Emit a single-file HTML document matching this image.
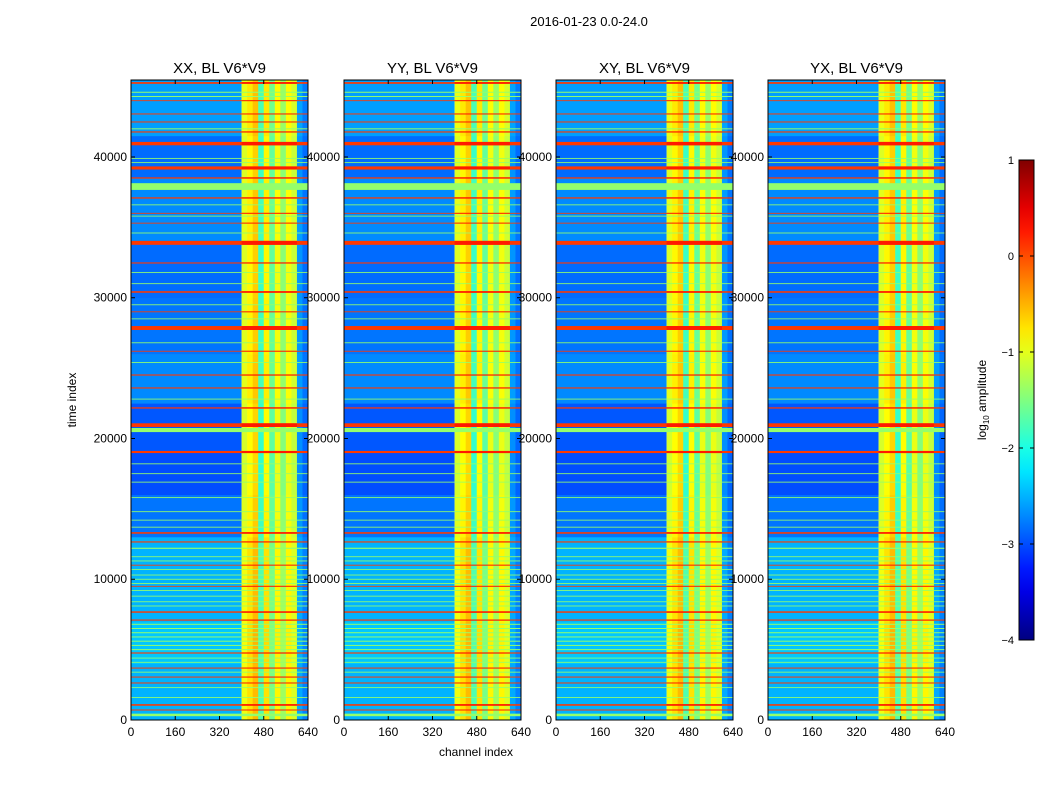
<!DOCTYPE html>
<html><head><meta charset="utf-8"><style>
body{margin:0;background:#fff;}
svg text{font-family:"Liberation Sans","DejaVu Sans",sans-serif;}
</style></head><body>
<svg id="fig" width="1050" height="800" viewBox="0 0 1050 800">
<rect width="1050" height="800" fill="#fff"/>
<text x="589" y="26" font-size="13" text-anchor="middle">2016-01-23 0.0-24.0</text>
<text x="476" y="756" font-size="12" text-anchor="middle">channel index</text>
<text x="76" y="400" font-size="12" text-anchor="middle" transform="rotate(-90 76 400)">time index</text>
<g id="panels"></g>
<g id="cbar"></g>
</svg>
<script>
// ---- data ----
const panelTitles = ["XX, BL V6*V9","YY, BL V6*V9","XY, BL V6*V9","YX, BL V6*V9"];
const xTicks = [0,160,320,480,640];
const yTicks = [0,10000,20000,30000,40000];
const cbarTicks = [1,0,-1,-2,-3,-4];
const cbarLabels = ["1","0","\u22121","\u22122","\u22123","\u22124"];
// channel profile of RFI region, 20-channel bins starting at 400
const rfiBinStart = [400,420,440,460,480,500,520,540,560,580,600,620];
const rfiBinValue = [-1.0,-0.8,-0.6,-1.8,-0.8,-1.6,-0.9,-1.4,-0.9,-1.1,-2.6,-2.8];
// background time bands
const bgStart = [0,1100,4000,7000,13000,16000,19000,22500,26000,30000,34000,38500,41500];
const bgEnd   = [1100,4000,7000,13000,16000,19000,22500,26000,30000,34000,38500,41500,45500];
const bgValue = [-2.5,-2.5,-2.4,-2.5,-2.8,-3.0,-2.95,-2.7,-2.8,-2.85,-2.7,-2.85,-2.6];
// orange stripes
const orangeT = [45260,43057,42488,41778,40950,39220,38510,37090,33900,32470,30410,27850,24510,23590,22170,20950,19040,13290,12650,7670,7100,4760,3690,3050,2630,1070,710,44000,36000,35300,29000,26200,9500,11000];
const orangeW = [120,70,70,80,240,220,90,90,280,80,110,280,80,80,90,260,150,110,80,100,80,80,70,70,70,110,70,60,60,60,60,60,60,60];
// green stripes
const greenT = [37900,20600,360,44600,44300,42000,39900,39600,36600,35800,34600,31800,31000,29500,28500,26800,25400,22800,18200,17500,16900,15800,14800,14200,13700,12200,11600,11300,10700,10300,10000,9700,9200,8800,8400,8100,6800,6500,6200,5900,5600,5300,5000,4400,4100,3400,2300,1600];
const greenW = [480,290,180,70,70,70,60,60,60,60,60,60,60,60,60,60,60,60,60,60,60,60,60,60,60,80,60,60,60,60,60,60,60,60,60,60,70,70,70,70,70,70,70,60,60,60,60,60];
const rfiOrangeBoost = 0.15;

// ---- helpers ----
function jet(v){
  let x=(v+4)/5; x=Math.max(0,Math.min(1,x));
  const c=t=>Math.round(255*Math.max(0,Math.min(1,1.5-Math.abs(4*x-t))));
  return `rgb(${c(3)},${c(2)},${c(1)})`;
}
const NS="http://www.w3.org/2000/svg";
function mk(tag,attrs,parent){const e=document.createElementNS(NS,tag);for(const k in attrs)e.setAttribute(k,attrs[k]);parent.appendChild(e);return e;}
const panelX=[131,344,556,768], panelW=177, plotTop=80, plotBot=720, tMax=45470, chMax=640;
const yScale=t=>plotBot-(t/tMax)*(plotBot-plotTop);
const panelsG=document.getElementById('panels');
panelTitles.forEach((title,p)=>{
  const x0=panelX[p];
  const xScale=c=>x0+c/chMax*panelW;
  const g=mk('g',{},panelsG);
  
  
  for(let i=0;i<bgStart.length;i++){
    const y1=yScale(bgEnd[i]),y2=yScale(bgStart[i]);
    const r=mk('rect',{x:xScale(0),y:y1,width:xScale(400)-xScale(0),height:y2-y1+0.3,fill:jet(bgValue[i])},g);
    
    
    for(let j=0;j<rfiBinStart.length;j++){
      const v=rfiBinValue[j]+(bgValue[i]+2.7)*0.3;
      const rr=mk('rect',{x:xScale(rfiBinStart[j]),y:y1,width:xScale(rfiBinStart[j]+20)-xScale(rfiBinStart[j])+0.3,height:y2-y1+0.3,fill:jet(v)},g);
      
      
    }
  }
  greenT.forEach((t,i)=>{
    const y1=yScale(t+greenW[i]/2),y2=yScale(t-greenW[i]/2);
    const r=mk('rect',{x:xScale(0),y:y1,width:panelW,height:Math.max(0.8,y2-y1),fill:jet(-1.4)},g);
    
    
  });
  orangeT.forEach((t,i)=>{
    const y1=yScale(t+orangeW[i]/2),y2=yScale(t-orangeW[i]/2);
    const h=Math.max(0.8,y2-y1);
    const r=mk('rect',{x:xScale(0),y:y1,width:panelW,height:h,fill:jet(0.1)},g);
    
    
    const r2=mk('rect',{x:xScale(400),y:y1,width:xScale(600)-xScale(400),height:h,fill:jet(0.1+rfiOrangeBoost)},g);
    
    
  });
  const fr=mk('rect',{x:x0,y:plotTop,width:panelW,height:plotBot-plotTop,fill:'none',stroke:'#000','stroke-width':1},g);
  
  
  const tt=mk('text',{x:x0+panelW/2,y:73,'font-size':15,'text-anchor':'middle'},g);
  tt.textContent=title;
  
  
  xTicks.forEach(c=>{
    const x=xScale(c);
    mk('line',{x1:x,x2:x,y1:plotBot,y2:plotBot-4,stroke:'#000'},g);
    mk('line',{x1:x,x2:x,y1:plotTop,y2:plotTop+4,stroke:'#000'},g);
    const t=mk('text',{x:x,y:plotBot+16,'font-size':12,'text-anchor':'middle'},g);
    t.textContent=c;
    
    
  });
  yTicks.forEach(v=>{
    const y=yScale(v);
    mk('line',{x1:x0,x2:x0+4,y1:y,y2:y,stroke:'#000'},g);
    mk('line',{x1:x0+panelW,x2:x0+panelW-4,y1:y,y2:y,stroke:'#000'},g);
    const t=mk('text',{x:x0-4,y:y+4,'font-size':12,'text-anchor':'end'},g);
    t.textContent=v;
    
    
  });
});
const cb=document.getElementById('cbar');
const cbX=1019,cbW=15,cbTop=160,cbBot=640;
const cbScale=v=>cbBot-(v+4)/5*(cbBot-cbTop);
const defs=mk('defs',{},cb);
const lg=mk('linearGradient',{id:'jetg',x1:0,y1:1,x2:0,y2:0},defs);
for(let i=0;i<=20;i++){mk('stop',{offset:i/20,'stop-color':jet(-4+5*i/20)},lg);}
const cr=mk('rect',{x:cbX,y:cbTop,width:cbW,height:cbBot-cbTop,fill:'url(#jetg)',stroke:'#000'},cb);


cbarTicks.forEach((v,i)=>{
  const y=cbScale(v);
  mk('line',{x1:cbX,x2:cbX+4,y1:y,y2:y,stroke:'#000'},cb);
  mk('line',{x1:cbX+cbW,x2:cbX+cbW-4,y1:y,y2:y,stroke:'#000'},cb);
  const t=mk('text',{x:1014,y:y+4,'font-size':11,'text-anchor':'end'},cb);
  t.textContent=cbarLabels[i];
  
  
});
const cl=mk('text',{x:986,y:400,'font-size':12,'text-anchor':'middle',transform:'rotate(-90 986 400)'},cb);
cl.innerHTML='log<tspan font-size="8" dy="3">10</tspan><tspan dy="-3"> amplitude</tspan>';


</script>
</body></html>
